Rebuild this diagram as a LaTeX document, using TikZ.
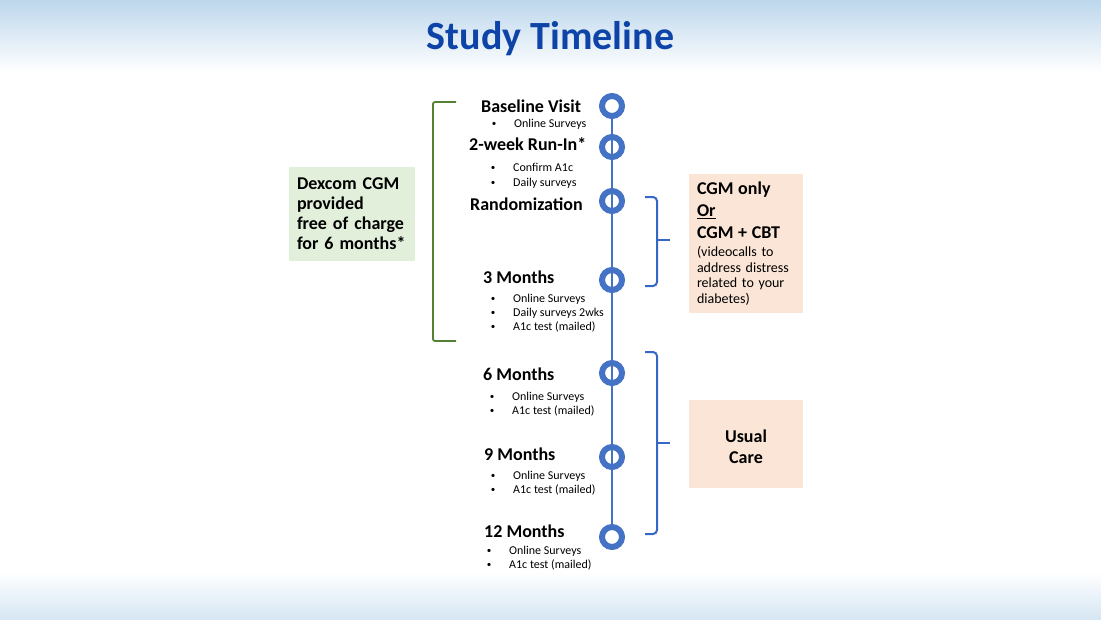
\documentclass[tikz,border=0pt]{standalone}
\usepackage{fontspec}
\setmainfont{Carlito}
\usetikzlibrary{positioning}
\definecolor{RingBlue}{RGB}{68,114,196}
\definecolor{BraceBlue}{RGB}{52,104,196}
\definecolor{TitleBlue}{RGB}{14,68,168}
\definecolor{BandBlue}{RGB}{189,215,236}
\definecolor{FootBlue}{RGB}{214,230,243}
\definecolor{LeafGreen}{RGB}{84,130,53}
\definecolor{MintFill}{RGB}{226,239,218}
\definecolor{PeachFill}{RGB}{251,229,214}
\newcommand{\blt}{\makebox[6pt]{\raisebox{0.8pt}{\fontsize{9}{9}\selectfont\textbullet}}\hspace{17pt}}
\tikzset{
  ring/.style  = {circle, draw=RingBlue, fill=white, line width=6pt,
                  minimum size=20pt, inner sep=0pt},
  hdg/.style   = {anchor=base west, inner sep=0pt,
                  font=\fontsize{18}{20}\selectfont\bfseries},
  itm/.style   = {anchor=base west, inner sep=0pt,
                  font=\fontsize{12}{14}\selectfont},
  note/.style  = {rectangle, inner sep=0pt, align=left}
}

\begin{document}
\begin{tikzpicture}[
    x=1pt, y=-1pt,
    tl/.style  = {RingBlue, line width=2pt},
    brc/.style = {BraceBlue, line width=2pt, rounded corners=4pt},
    bkt/.style = {LeafGreen, line width=1.8pt, rounded corners=2pt},
  ]

  % background bands
  \shade[top color=BandBlue, bottom color=white] (0,0) rectangle (1101,72);
  \shade[top color=white, bottom color=FootBlue] (0,572) rectangle (1101,619);
  \useasboundingbox (0,0) rectangle (1101,619);

  \node[anchor=base, inner sep=0pt, text=TitleBlue,
        font=\fontsize{40}{44}\selectfont\bfseries] (title) at (550.5,49) {Study Timeline};

  % timeline rings
  \node[ring] (m0) at (612,106) {};
  \node[ring] (m1) at (612,147) {};
  \node[ring] (m2) at (612,201) {};
  \node[ring] (m3) at (612,280) {};
  \node[ring] (m4) at (612,373) {};
  \node[ring] (m5) at (612,457) {};
  \node[ring] (m6) at (612,537) {};
  \draw[tl] (m0.south) -- (m6.north);

  % milestones
  \node[hdg] (base)  at (481,112) {Baseline Visit};
  \node[itm] (base1) at (491,127) {\blt Online Surveys};

  \node[hdg] (runin)  at (469,150) {2-week Run-In*};
  \node[itm] (runin1) at (490,171) {\blt Confirm A1c};
  \node[itm] (runin2) at (490,186) {\blt Daily surveys};

  \node[hdg] (rand) at (470,210) {Randomization};

  \node[hdg] (mon3)  at (483,283) {3 Months};
  \node[itm] (mon3a) at (490,302) {\blt Online Surveys};
  \node[itm] (mon3b) at (490,316) {\blt Daily surveys 2wks};
  \node[itm] (mon3c) at (490,330) {\blt A1c test (mailed)};

  \node[hdg] (mon6)  at (483,380) {6 Months};
  \node[itm] (mon6a) at (489,400) {\blt Online Surveys};
  \node[itm] (mon6b) at (489,414) {\blt A1c test (mailed)};

  \node[hdg] (mon9)  at (484,460) {9 Months};
  \node[itm] (mon9a) at (490,479) {\blt Online Surveys};
  \node[itm] (mon9b) at (490,493) {\blt A1c test (mailed)};

  \node[hdg] (mon12)  at (484,537) {12 Months};
  \node[itm] (mon12a) at (486,554) {\blt Online Surveys};
  \node[itm] (mon12b) at (486,568) {\blt A1c test (mailed)};

  % side notes
  \node[note, fill=MintFill, minimum width=126pt, minimum height=94pt,
        text width=110pt, font=\fontsize{18}{20}\selectfont\bfseries]
        (cgmfree) at (352,214) {Dexcom CGM\\provided\\free of charge\\for 6 months*};

  \node[note, fill=PeachFill, minimum width=114pt, minimum height=139pt,
        text width=98pt, font=\fontsize{14}{15.5}\selectfont]
        (arms) at (746,243.5) {\lineskiplimit=-50pt
        {\fontsize{18}{15.5}\selectfont\bfseries CGM only\\[6.5pt]\underline{Or}\\[6.5pt]CGM + CBT}\\[2.5pt]
        (videocalls to\\address distress\\related to your\\diabetes)};

  \node[note, align=center, fill=PeachFill, minimum width=114pt, minimum height=88pt,
        text height=39pt, font=\fontsize{18}{20.5}\selectfont\bfseries]
        (usual) at (746,444) {Usual\\Care};

  % brackets
  \draw[bkt] (456,102) -- (433,102) -- (433,341) -- (456,341);
  \draw[brc] (645,197) -| (657,240) |- (645,286);
  \draw[brc] (657,240) -- (670,240);
  \draw[brc] (645,352) -| (657,443) |- (645,534);
  \draw[brc] (657,443) -- (670,443);

\end{tikzpicture}
\end{document}
